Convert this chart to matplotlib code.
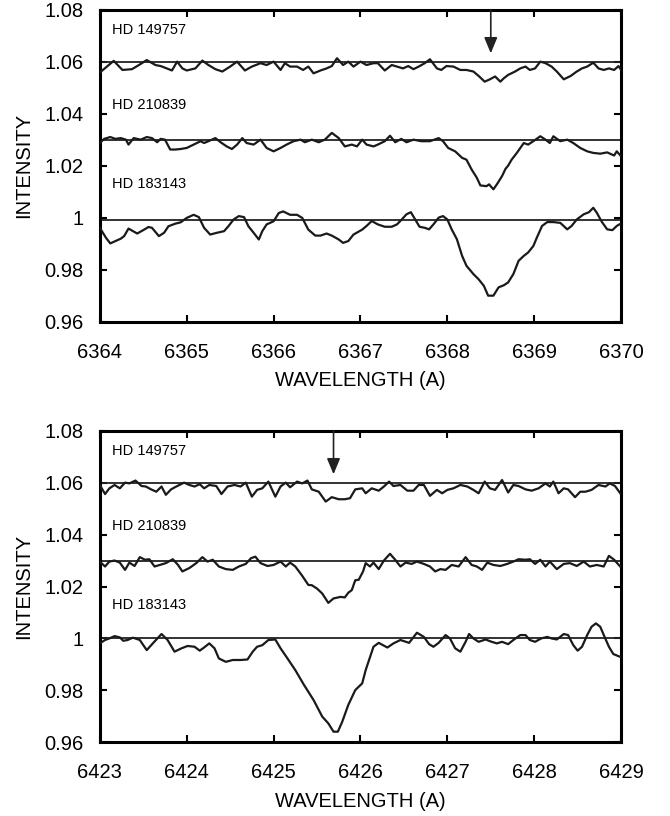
import matplotlib.pyplot as plt
import numpy as np

plt.rcParams['font.family'] = ['Liberation Sans', 'DejaVu Sans']

# ---- panel 1 : 6364-6370 A ----
w1_149757 = [6364.00, 6364.16, 6364.26, 6364.37, 6364.45, 6364.54, 6364.64, 6364.70, 6364.77, 6364.83,
             6364.89, 6364.95, 6365.00, 6365.10, 6365.18, 6365.25, 6365.33, 6365.41, 6365.50, 6365.58,
             6365.67, 6365.75, 6365.85, 6365.92, 6366.00, 6366.08, 6366.13, 6366.19, 6366.27, 6366.34,
             6366.40, 6366.46, 6366.54, 6366.61, 6366.67, 6366.73, 6366.80, 6366.86, 6366.92, 6367.00,
             6367.07, 6367.15, 6367.20, 6367.28, 6367.36, 6367.42, 6367.49, 6367.55, 6367.61, 6367.67,
             6367.74, 6367.80, 6367.88, 6367.93, 6367.99, 6368.07, 6368.15, 6368.22, 6368.30, 6368.36,
             6368.43, 6368.49, 6368.55, 6368.61, 6368.65, 6368.70, 6368.78, 6368.84, 6368.90, 6368.95,
             6369.01, 6369.07, 6369.13, 6369.20, 6369.26, 6369.34, 6369.42, 6369.49, 6369.55, 6369.61,
             6369.68, 6369.74, 6369.80, 6369.86, 6369.92, 6369.97, 6370.00]
i1_149757 = [1.0558, 1.0603, 1.0568, 1.0571, 1.0587, 1.0606, 1.0587, 1.0583, 1.0574, 1.0566,
             1.0600, 1.0574, 1.0566, 1.0574, 1.0604, 1.0587, 1.0571, 1.0562, 1.0581, 1.0600,
             1.0566, 1.0581, 1.0594, 1.0587, 1.0600, 1.0568, 1.0594, 1.0581, 1.0581, 1.0568,
             1.0581, 1.0555, 1.0566, 1.0574, 1.0583, 1.0613, 1.0587, 1.0600, 1.0581, 1.0600,
             1.0587, 1.0594, 1.0594, 1.0566, 1.0587, 1.0581, 1.0574, 1.0583, 1.0571, 1.0581,
             1.0594, 1.0609, 1.0574, 1.0568, 1.0583, 1.0581, 1.0568, 1.0568, 1.0562, 1.0545,
             1.0523, 1.0532, 1.0543, 1.0523, 1.0536, 1.0549, 1.0562, 1.0574, 1.0581, 1.0568,
             1.0574, 1.0600, 1.0594, 1.0581, 1.0562, 1.0532, 1.0545, 1.0562, 1.0574, 1.0581,
             1.0596, 1.0574, 1.0568, 1.0574, 1.0568, 1.0583, 1.0568]

w1_210839 = [6364.00, 6364.05, 6364.12, 6364.18, 6364.24, 6364.30, 6364.33, 6364.39, 6364.47, 6364.54,
             6364.60, 6364.66, 6364.70, 6364.75, 6364.81, 6364.87, 6364.93, 6365.00, 6365.08, 6365.16,
             6365.20, 6365.25, 6365.33, 6365.39, 6365.46, 6365.52, 6365.58, 6365.64, 6365.69, 6365.77,
             6365.85, 6365.92, 6366.00, 6366.08, 6366.15, 6366.23, 6366.31, 6366.36, 6366.44, 6366.52,
             6366.59, 6366.67, 6366.75, 6366.82, 6366.90, 6366.96, 6367.02, 6367.07, 6367.15, 6367.20,
             6367.28, 6367.34, 6367.40, 6367.47, 6367.53, 6367.61, 6367.70, 6367.80, 6367.90, 6367.95,
             6368.01, 6368.09, 6368.17, 6368.22, 6368.28, 6368.34, 6368.38, 6368.45, 6368.48, 6368.53,
             6368.57, 6368.63, 6368.67, 6368.70, 6368.74, 6368.80, 6368.88, 6368.93, 6368.99, 6369.07,
             6369.13, 6369.18, 6369.22, 6369.30, 6369.38, 6369.45, 6369.53, 6369.61, 6369.68, 6369.76,
             6369.84, 6369.92, 6369.95, 6370.00]
i1_210839 = [1.0287, 1.0303, 1.0310, 1.0303, 1.0306, 1.0300, 1.0281, 1.0306, 1.0300, 1.0310,
             1.0306, 1.0290, 1.0303, 1.0300, 1.0262, 1.0262, 1.0264, 1.0268, 1.0281, 1.0294,
             1.0287, 1.0294, 1.0306, 1.0290, 1.0274, 1.0264, 1.0281, 1.0306, 1.0287, 1.0281,
             1.0300, 1.0268, 1.0255, 1.0268, 1.0281, 1.0294, 1.0300, 1.0290, 1.0300, 1.0290,
             1.0300, 1.0326, 1.0306, 1.0274, 1.0281, 1.0274, 1.0300, 1.0281, 1.0274, 1.0281,
             1.0294, 1.0315, 1.0290, 1.0303, 1.0290, 1.0300, 1.0294, 1.0294, 1.0306, 1.0294,
             1.0268, 1.0255, 1.0230, 1.0223, 1.0185, 1.0153, 1.0124, 1.0121, 1.0128, 1.0109,
             1.0128, 1.0160, 1.0188, 1.0200, 1.0223, 1.0249, 1.0287, 1.0281, 1.0294, 1.0313,
             1.0300, 1.0287, 1.0313, 1.0294, 1.0300, 1.0287, 1.0268, 1.0255, 1.0249, 1.0246,
             1.0251, 1.0239, 1.0255, 1.0236]

w1_183143 = [6364.00, 6364.07, 6364.12, 6364.18, 6364.24, 6364.28, 6364.33, 6364.43, 6364.51, 6364.56,
             6364.60, 6364.68, 6364.74, 6364.79, 6364.87, 6364.93, 6365.00, 6365.08, 6365.14, 6365.20,
             6365.27, 6365.35, 6365.43, 6365.48, 6365.54, 6365.60, 6365.66, 6365.71, 6365.77, 6365.83,
             6365.87, 6365.92, 6366.00, 6366.06, 6366.11, 6366.19, 6366.27, 6366.33, 6366.40, 6366.48,
             6366.54, 6366.61, 6366.67, 6366.75, 6366.80, 6366.86, 6366.92, 6367.02, 6367.07, 6367.13,
             6367.20, 6367.28, 6367.36, 6367.42, 6367.47, 6367.53, 6367.58, 6367.63, 6367.68, 6367.74,
             6367.79, 6367.84, 6367.90, 6367.95, 6368.00, 6368.05, 6368.11, 6368.17, 6368.22, 6368.30,
             6368.36, 6368.42, 6368.47, 6368.53, 6368.59, 6368.65, 6368.70, 6368.76, 6368.82, 6368.88,
             6368.93, 6368.99, 6369.03, 6369.09, 6369.15, 6369.22, 6369.30, 6369.38, 6369.43, 6369.49,
             6369.57, 6369.63, 6369.68, 6369.72, 6369.78, 6369.84, 6369.90, 6369.95, 6370.00]
i1_183143 = [0.9961, 0.9923, 0.9901, 0.9910, 0.9919, 0.9929, 0.9958, 0.9939, 0.9954, 0.9964,
             0.9961, 0.9929, 0.9942, 0.9967, 0.9977, 0.9982, 0.9999, 1.0011, 1.0002, 0.9961,
             0.9935, 0.9942, 0.9948, 0.9967, 0.9993, 1.0006, 1.0002, 0.9967, 0.9942, 0.9916,
             0.9948, 0.9974, 0.9986, 1.0018, 1.0024, 1.0011, 1.0011, 0.9999, 0.9954, 0.9931,
             0.9931, 0.9939, 0.9931, 0.9916, 0.9903, 0.9910, 0.9935, 0.9954, 0.9968, 0.9987,
             0.9974, 0.9965, 0.9965, 0.9974, 0.9991, 1.0013, 1.0021, 0.9993, 0.9965, 0.9961,
             0.9955, 0.9974, 1.0000, 1.0006, 0.9993, 0.9955, 0.9917, 0.9853, 0.9815, 0.9783,
             0.9763, 0.9738, 0.9700, 0.9700, 0.9732, 0.9740, 0.9751, 0.9783, 0.9834, 0.9853,
             0.9866, 0.9891, 0.9923, 0.9968, 0.9983, 0.9983, 0.9980, 0.9955, 0.9968, 0.9993,
             1.0013, 1.0021, 1.0038, 1.0019, 0.9983, 0.9955, 0.9952, 0.9968, 0.9978]

# ---- panel 2 : 6423-6429 A ----
w2_149757 = [6423.00, 6423.06, 6423.11, 6423.17, 6423.23, 6423.29, 6423.34, 6423.41, 6423.48, 6423.53,
             6423.59, 6423.65, 6423.71, 6423.76, 6423.82, 6423.88, 6423.97, 6424.03, 6424.09, 6424.15,
             6424.20, 6424.26, 6424.34, 6424.40, 6424.47, 6424.55, 6424.62, 6424.68, 6424.75, 6424.81,
             6424.87, 6424.94, 6425.02, 6425.08, 6425.14, 6425.19, 6425.27, 6425.33, 6425.39, 6425.44,
             6425.52, 6425.60, 6425.67, 6425.75, 6425.82, 6425.88, 6425.94, 6426.02, 6426.06, 6426.13,
             6426.21, 6426.27, 6426.33, 6426.38, 6426.46, 6426.54, 6426.61, 6426.67, 6426.73, 6426.80,
             6426.88, 6426.94, 6427.00, 6427.07, 6427.15, 6427.23, 6427.30, 6427.36, 6427.43, 6427.49,
             6427.55, 6427.63, 6427.70, 6427.76, 6427.82, 6427.90, 6427.97, 6428.05, 6428.13, 6428.18,
             6428.22, 6428.28, 6428.34, 6428.39, 6428.47, 6428.53, 6428.59, 6428.66, 6428.74, 6428.82,
             6428.87, 6428.93, 6428.99]
i2_149757 = [1.0591, 1.0556, 1.0578, 1.0591, 1.0578, 1.0600, 1.0597, 1.0608, 1.0587, 1.0585,
             1.0574, 1.0565, 1.0585, 1.0553, 1.0574, 1.0585, 1.0600, 1.0591, 1.0585, 1.0594,
             1.0578, 1.0591, 1.0587, 1.0556, 1.0585, 1.0591, 1.0585, 1.0600, 1.0546, 1.0572,
             1.0578, 1.0604, 1.0546, 1.0585, 1.0600, 1.0582, 1.0604, 1.0597, 1.0608, 1.0574,
             1.0565, 1.0527, 1.0544, 1.0536, 1.0536, 1.0540, 1.0574, 1.0578, 1.0559, 1.0578,
             1.0569, 1.0585, 1.0604, 1.0587, 1.0591, 1.0569, 1.0569, 1.0591, 1.0591, 1.0549,
             1.0572, 1.0559, 1.0572, 1.0578, 1.0591, 1.0585, 1.0572, 1.0559, 1.0604, 1.0578,
             1.0572, 1.0610, 1.0562, 1.0591, 1.0587, 1.0574, 1.0569, 1.0578, 1.0597, 1.0585,
             1.0604, 1.0559, 1.0578, 1.0574, 1.0544, 1.0565, 1.0565, 1.0572, 1.0591, 1.0585,
             1.0597, 1.0587, 1.0559]

w2_210839 = [6423.00, 6423.06, 6423.11, 6423.17, 6423.23, 6423.29, 6423.34, 6423.40, 6423.46, 6423.52,
             6423.57, 6423.63, 6423.69, 6423.76, 6423.84, 6423.90, 6423.95, 6424.03, 6424.11, 6424.18,
             6424.24, 6424.30, 6424.37, 6424.45, 6424.53, 6424.60, 6424.68, 6424.74, 6424.79, 6424.85,
             6424.93, 6425.00, 6425.08, 6425.14, 6425.19, 6425.25, 6425.33, 6425.40, 6425.44, 6425.50,
             6425.56, 6425.63, 6425.69, 6425.77, 6425.82, 6425.86, 6425.90, 6425.94, 6425.98, 6426.03,
             6426.06, 6426.11, 6426.15, 6426.21, 6426.27, 6426.34, 6426.40, 6426.46, 6426.52, 6426.59,
             6426.65, 6426.73, 6426.80, 6426.86, 6426.92, 6426.98, 6427.05, 6427.13, 6427.21, 6427.28,
             6427.34, 6427.40, 6427.46, 6427.53, 6427.61, 6427.69, 6427.76, 6427.82, 6427.90, 6427.95,
             6428.01, 6428.07, 6428.13, 6428.18, 6428.26, 6428.34, 6428.41, 6428.49, 6428.57, 6428.64,
             6428.72, 6428.80, 6428.86, 6428.92, 6428.99]
i2_210839 = [1.0296, 1.0277, 1.0296, 1.0300, 1.0292, 1.0264, 1.0292, 1.0279, 1.0313, 1.0303,
             1.0305, 1.0277, 1.0283, 1.0290, 1.0305, 1.0283, 1.0258, 1.0271, 1.0290, 1.0313,
             1.0296, 1.0303, 1.0277, 1.0267, 1.0264, 1.0277, 1.0287, 1.0309, 1.0315, 1.0290,
             1.0279, 1.0283, 1.0296, 1.0277, 1.0292, 1.0277, 1.0241, 1.0206, 1.0205, 1.0192,
             1.0173, 1.0137, 1.0154, 1.0160, 1.0158, 1.0176, 1.0186, 1.0224, 1.0226, 1.0258,
             1.0290, 1.0277, 1.0292, 1.0267, 1.0300, 1.0326, 1.0303, 1.0277, 1.0292, 1.0287,
             1.0296, 1.0287, 1.0277, 1.0258, 1.0267, 1.0264, 1.0283, 1.0277, 1.0313, 1.0283,
             1.0277, 1.0264, 1.0292, 1.0283, 1.0279, 1.0287, 1.0296, 1.0305, 1.0303, 1.0305,
             1.0287, 1.0303, 1.0277, 1.0296, 1.0267, 1.0287, 1.0290, 1.0279, 1.0296, 1.0277,
             1.0283, 1.0277, 1.0318, 1.0303, 1.0277]

w2_183143 = [6423.00, 6423.06, 6423.11, 6423.17, 6423.23, 6423.27, 6423.32, 6423.38, 6423.46, 6423.54,
             6423.61, 6423.71, 6423.78, 6423.86, 6423.94, 6424.01, 6424.09, 6424.15, 6424.20, 6424.26,
             6424.32, 6424.37, 6424.45, 6424.53, 6424.62, 6424.70, 6424.76, 6424.81, 6424.87, 6424.94,
             6425.02, 6425.08, 6425.16, 6425.25, 6425.35, 6425.46, 6425.56, 6425.63, 6425.69, 6425.74,
             6425.79, 6425.86, 6425.94, 6426.02, 6426.06, 6426.15, 6426.21, 6426.31, 6426.38, 6426.46,
             6426.56, 6426.65, 6426.73, 6426.79, 6426.84, 6426.90, 6426.98, 6427.03, 6427.09, 6427.15,
             6427.21, 6427.25, 6427.30, 6427.36, 6427.44, 6427.51, 6427.57, 6427.63, 6427.70, 6427.76,
             6427.84, 6427.90, 6427.95, 6428.01, 6428.08, 6428.15, 6428.20, 6428.26, 6428.34, 6428.39,
             6428.45, 6428.50, 6428.55, 6428.61, 6428.66, 6428.71, 6428.76, 6428.81, 6428.86, 6428.91,
             6428.99]
i2_183143 = [0.9981, 0.9994, 1.0000, 1.0009, 1.0004, 0.9991, 0.9994, 1.0003, 0.9994, 0.9955,
             0.9981, 1.0017, 0.9994, 0.9949, 0.9962, 0.9971, 0.9968, 0.9953, 0.9965, 0.9981,
             0.9962, 0.9923, 0.9910, 0.9917, 0.9917, 0.9919, 0.9949, 0.9968, 0.9974, 0.9994,
             0.9996, 0.9962, 0.9923, 0.9878, 0.9821, 0.9763, 0.9699, 0.9673, 0.9641, 0.9641,
             0.9679, 0.9744, 0.9801, 0.9827, 0.9878, 0.9968, 0.9983, 0.9965, 0.9981, 0.9994,
             0.9983, 1.0022, 1.0006, 0.9978, 0.9968, 0.9983, 1.0013, 1.0000, 0.9962, 0.9949,
             0.9987, 1.0017, 1.0000, 0.9987, 0.9996, 0.9987, 0.9981, 0.9987, 0.9978, 0.9994,
             1.0013, 1.0013, 0.9994, 0.9987, 1.0000, 1.0006, 1.0000, 0.9996, 1.0017, 1.0013,
             0.9974, 0.9953, 0.9968, 1.0013, 1.0045, 1.0058, 1.0045, 1.0006, 0.9968, 0.9940,
             0.9929]

star_names = ['HD 149757', 'HD 210839', 'HD 183143']
continua_1 = [1.06, 1.03, 0.999]
continua_2 = [1.06, 1.03, 1.00]
label_y = [1.0721, 1.0434, 1.0128]
arrow_x = [6368.5, 6425.69]

yticks = [0.96, 0.98, 1.00, 1.02, 1.04, 1.06, 1.08]
ytick_labels = ['0.96', '0.98', '1', '1.02', '1.04', '1.06', '1.08']

fig = plt.figure(figsize=(6.7, 8.16), dpi=100)
ax1 = fig.add_axes([0.149, 0.6058, 0.778, 0.3824])
ax2 = fig.add_axes([0.149, 0.0903, 0.778, 0.3819])

panels = [
    (ax1, 6364, [(w1_149757, i1_149757), (w1_210839, i1_210839), (w1_183143, i1_183143)], continua_1, arrow_x[0]),
    (ax2, 6423, [(w2_149757, i2_149757), (w2_210839, i2_210839), (w2_183143, i2_183143)], continua_2, arrow_x[1]),
]

for ax, x0, spectra, continua, ax_arrow in panels:
    for (w, fl), c in zip(spectra, continua):
        ax.axhline(c, color='#222222', linewidth=1.3, zorder=2)
        ax.plot(w, fl, color='#1a1a1a', linewidth=1.6, zorder=3)
    for name, ly in zip(star_names, label_y):
        ax.text(x0 + 0.14, ly, name, fontsize=10.5, va='center', ha='left')
    ax.annotate('', xy=(ax_arrow, 1.0632), xytext=(ax_arrow, 1.08),
                arrowprops=dict(arrowstyle='-|>,head_length=0.6,head_width=0.25',
                                color='#222222', lw=1.2, mutation_scale=16, shrinkA=0, shrinkB=0))
    ax.set_xlim(x0, x0 + 6)
    ax.set_ylim(0.96, 1.08)
    ax.set_xticks(np.arange(x0, x0 + 7, 1))
    ax.set_yticks(yticks)
    ax.set_yticklabels(ytick_labels)
    ax.tick_params(direction='in', top=True, right=True, length=5, width=1.5, labelsize=14.5)
    ax.tick_params(axis='x', pad=15)
    ax.tick_params(axis='y', pad=12)
    for sp in ax.spines.values():
        sp.set_linewidth(2.2)
    ax.set_xlabel('WAVELENGTH (A)', fontsize=14.5, labelpad=7)
    ax.set_ylabel('INTENSITY', fontsize=14.5, labelpad=8)

fig.savefig('out.png', dpi=100)
